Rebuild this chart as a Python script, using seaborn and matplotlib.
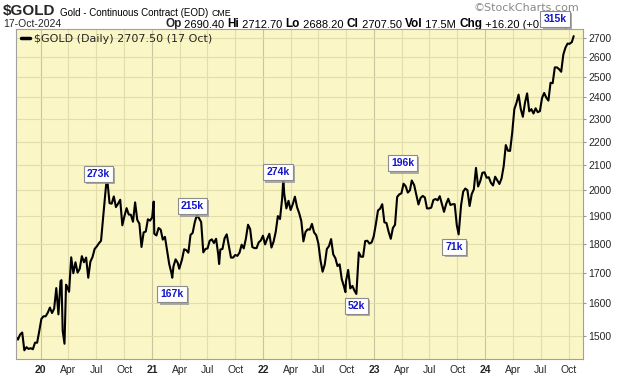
import pandas as pd
import seaborn as sns
import matplotlib.pyplot as plt
import matplotlib.patheffects as pe
from matplotlib.ticker import FixedLocator, NullLocator

# weekly closes (plus a few daily extremes)
dates = [
    '2019-10-14', '2019-10-18', '2019-10-25', '2019-11-01', '2019-11-08', '2019-11-15',
    '2019-11-22', '2019-11-29', '2019-12-06', '2019-12-13', '2019-12-20', '2019-12-27',
    '2020-01-03', '2020-01-10', '2020-01-17', '2020-01-24', '2020-01-31', '2020-02-07',
    '2020-02-14', '2020-02-21', '2020-02-28', '2020-03-06', '2020-03-09', '2020-03-13',
    '2020-03-19', '2020-03-24', '2020-03-27', '2020-04-03', '2020-04-10', '2020-04-17',
    '2020-04-24', '2020-05-01', '2020-05-08', '2020-05-15', '2020-05-22', '2020-05-29',
    '2020-06-05', '2020-06-12', '2020-06-19', '2020-06-26', '2020-07-03', '2020-07-10',
    '2020-07-17', '2020-07-24', '2020-07-31', '2020-08-06', '2020-08-07', '2020-08-14',
    '2020-08-21', '2020-08-28', '2020-09-04', '2020-09-11', '2020-09-18', '2020-09-25',
    '2020-10-02', '2020-10-09', '2020-10-16', '2020-10-23', '2020-10-30', '2020-11-06',
    '2020-11-13', '2020-11-20', '2020-11-27', '2020-12-04', '2020-12-11', '2020-12-18',
    '2020-12-25', '2021-01-01', '2021-01-06', '2021-01-08', '2021-01-15', '2021-01-22',
    '2021-01-29', '2021-02-05', '2021-02-12', '2021-02-19', '2021-02-26', '2021-03-05',
    '2021-03-08', '2021-03-12', '2021-03-19', '2021-03-26', '2021-03-31', '2021-04-09',
    '2021-04-16', '2021-04-23', '2021-04-30', '2021-05-07', '2021-05-14', '2021-05-21',
    '2021-05-28', '2021-06-04', '2021-06-11', '2021-06-18', '2021-06-25', '2021-07-02',
    '2021-07-09', '2021-07-16', '2021-07-23', '2021-07-30', '2021-08-06', '2021-08-09',
    '2021-08-13', '2021-08-20', '2021-08-27', '2021-09-03', '2021-09-10', '2021-09-17',
    '2021-09-24', '2021-10-01', '2021-10-08', '2021-10-15', '2021-10-22', '2021-10-29',
    '2021-11-05', '2021-11-12', '2021-11-19', '2021-11-26', '2021-12-03', '2021-12-10',
    '2021-12-17', '2021-12-24', '2021-12-31', '2022-01-07', '2022-01-14', '2022-01-21',
    '2022-01-28', '2022-02-04', '2022-02-11', '2022-02-18', '2022-02-25', '2022-03-04',
    '2022-03-08', '2022-03-11', '2022-03-18', '2022-03-25', '2022-04-01', '2022-04-08',
    '2022-04-15', '2022-04-22', '2022-04-29', '2022-05-06', '2022-05-13', '2022-05-20',
    '2022-05-27', '2022-06-03', '2022-06-10', '2022-06-17', '2022-06-24', '2022-07-01',
    '2022-07-08', '2022-07-15', '2022-07-22', '2022-07-29', '2022-08-05', '2022-08-12',
    '2022-08-19', '2022-08-26', '2022-09-02', '2022-09-09', '2022-09-16', '2022-09-23',
    '2022-09-28', '2022-09-30', '2022-10-07', '2022-10-14', '2022-10-21', '2022-10-28',
    '2022-11-03', '2022-11-11', '2022-11-18', '2022-11-25', '2022-12-02', '2022-12-09',
    '2022-12-16', '2022-12-23', '2022-12-30', '2023-01-06', '2023-01-13', '2023-01-20',
    '2023-01-27', '2023-02-03', '2023-02-10', '2023-02-17', '2023-02-24', '2023-03-03',
    '2023-03-10', '2023-03-17', '2023-03-24', '2023-03-31', '2023-04-07', '2023-04-14',
    '2023-04-21', '2023-04-28', '2023-05-04', '2023-05-12', '2023-05-19', '2023-05-26',
    '2023-06-02', '2023-06-09', '2023-06-16', '2023-06-23', '2023-06-30', '2023-07-07',
    '2023-07-14', '2023-07-21', '2023-07-28', '2023-08-04', '2023-08-11', '2023-08-18',
    '2023-08-25', '2023-09-01', '2023-09-08', '2023-09-15', '2023-09-22', '2023-09-29',
    '2023-10-05', '2023-10-13', '2023-10-20', '2023-10-27', '2023-11-03', '2023-11-10',
    '2023-11-17', '2023-11-24', '2023-12-01', '2023-12-08', '2023-12-15', '2023-12-22',
    '2023-12-29', '2024-01-05', '2024-01-12', '2024-01-19', '2024-01-26', '2024-02-02',
    '2024-02-09', '2024-02-16', '2024-02-23', '2024-03-01', '2024-03-08', '2024-03-15',
    '2024-03-22', '2024-03-29', '2024-04-05', '2024-04-12', '2024-04-19', '2024-04-26',
    '2024-05-03', '2024-05-10', '2024-05-17', '2024-05-24', '2024-05-31', '2024-06-07',
    '2024-06-14', '2024-06-21', '2024-06-28', '2024-07-05', '2024-07-12', '2024-07-19',
    '2024-07-26', '2024-08-02', '2024-08-09', '2024-08-16', '2024-08-23', '2024-08-30',
    '2024-09-06', '2024-09-13', '2024-09-20', '2024-09-27', '2024-10-04', '2024-10-11',
    '2024-10-17',
]
closes = [
    1495, 1490, 1505, 1511, 1459, 1468,
    1463, 1465, 1462, 1481, 1481, 1515,
    1552, 1560, 1560, 1571, 1587, 1570,
    1584, 1649, 1566, 1672, 1675, 1516,
    1478, 1660, 1655, 1637, 1752, 1698,
    1735, 1700, 1713, 1756, 1735, 1751,
    1683, 1737, 1753, 1781, 1790, 1801,
    1810, 1897, 1986, 2060, 2035, 1949,
    1947, 1975, 1934, 1947, 1962, 1866,
    1900, 1930, 1906, 1905, 1879, 1952,
    1886, 1872, 1788, 1840, 1843, 1888,
    1883, 1895, 1955, 1835, 1829, 1856,
    1850, 1814, 1824, 1777, 1729, 1700,
    1683, 1721, 1745, 1733, 1713, 1744,
    1780, 1777, 1768, 1831, 1838, 1877,
    1904, 1892, 1878, 1769, 1781, 1783,
    1810, 1815, 1802, 1817, 1763, 1729,
    1779, 1781, 1819, 1833, 1791, 1751,
    1751, 1760, 1757, 1768, 1796, 1783,
    1818, 1868, 1852, 1788, 1784, 1784,
    1804, 1811, 1828, 1797, 1817, 1835,
    1786, 1807, 1842, 1900, 1889, 1966,
    2043, 1985, 1929, 1958, 1923, 1945,
    1974, 1934, 1911, 1882, 1808, 1842,
    1851, 1850, 1871, 1840, 1830, 1801,
    1742, 1703, 1727, 1781, 1791, 1816,
    1762, 1749, 1722, 1728, 1678, 1655,
    1636, 1672, 1709, 1648, 1656, 1640,
    1630, 1769, 1754, 1754, 1809, 1810,
    1800, 1804, 1826, 1870, 1921, 1928,
    1945, 1877, 1874, 1842, 1817, 1856,
    1868, 1973, 1983, 1987, 2025, 2015,
    1990, 1999, 2038, 2019, 1981, 1944,
    1969, 1977, 1971, 1929, 1929, 1932,
    1961, 1965, 1960, 1976, 1946, 1916,
    1946, 1966, 1942, 1945, 1945, 1866,
    1833, 1941, 1994, 2006, 1999, 1938,
    1984, 2003, 2089, 2014, 2035, 2069,
    2071, 2049, 2051, 2029, 2018, 2053,
    2038, 2024, 2046, 2096, 2185, 2161,
    2160, 2238, 2345, 2374, 2413, 2347,
    2310, 2375, 2419, 2335, 2345, 2325,
    2349, 2331, 2336, 2397, 2421, 2399,
    2385, 2470, 2468, 2546, 2546, 2537,
    2524, 2611, 2647, 2668, 2667, 2676,
    2707.5,
]

price_ticks = [1500, 1600, 1700, 1800, 1900, 2000, 2100, 2200, 2300, 2400, 2500, 2600, 2700]
date_ticks = pd.date_range('2020-01-01', '2024-10-01', freq='QS')

# volume call-outs
vol_labels = ['273k', '215k', '167k', '274k', '52k', '196k', '71k', '315k']
vol_dates = ['2020-07-09', '2021-05-13', '2021-03-08', '2022-02-19',
             '2022-11-03', '2023-04-04', '2023-09-21', '2024-08-17']
vol_levels = [2063, 1937, 1629, 2071, 1591, 2108, 1787, 2800]

sns.set_style('white', {'axes.facecolor': '#FAF6C6'})
plt.rcParams['font.family'] = ['Liberation Sans', 'DejaVu Sans']

df = pd.DataFrame({'date': pd.to_datetime(dates), 'close': closes})

fig = plt.figure(figsize=(6.2, 3.76), dpi=100)
ax = fig.add_axes([0.026, 0.045, 0.9145, 0.878])
ax.set_zorder(5)

sns.lineplot(data=df, x='date', y='close', ax=ax, color='black', lw=1.5,
             label=r'\$GOLD (Daily) 2707.50 (17 Oct)')

ax.set_yscale('log')
ax.set_ylim(1434, 2746)
ax.set_xlim(pd.Timestamp('2019-10-12'), pd.Timestamp('2024-11-17'))

ax.yaxis.set_major_locator(FixedLocator(price_ticks))
ax.yaxis.set_minor_locator(NullLocator())
ax.set_yticklabels([str(p) for p in price_ticks])
ax.yaxis.tick_right()
ax.set_xticks(date_ticks)
ax.set_xticklabels([d.strftime('%y') if d.month == 1 else d.strftime('%b') for d in date_ticks])
for lab, d in zip(ax.get_xticklabels(), date_ticks):
    if d.month == 1:
        lab.set_fontweight('bold')
        lab.set_fontsize(8.5)
ax.tick_params(axis='both', labelsize=7.5, length=2, color='#999999', pad=2)
ax.set_xlabel('')
ax.set_ylabel('')

ax.grid(True, color='#E2DDA9', lw=0.8)
for line, d in zip(ax.get_xgridlines(), date_ticks):
    if d.month == 1:
        line.set_color('#C9C4A0')
for sp in ax.spines.values():
    sp.set_color('#A0A0A0')
    sp.set_linewidth(0.8)

leg = ax.legend(loc='upper left', frameon=False, handlelength=0.8, handletextpad=0.4,
                borderaxespad=0.05, prop={'family': 'DejaVu Sans', 'size': 8})
for h in leg.get_lines():
    h.set_linewidth(2.5)

for lab, d, v in zip(vol_labels, vol_dates, vol_levels):
    t = ax.text(pd.Timestamp(d), v, lab, ha='center', va='center', color='#1414C8',
                fontweight='bold', fontsize=7.5, clip_on=False, zorder=6,
                bbox=dict(boxstyle='square,pad=0.3', fc='white', ec='#8C8C8C', lw=0.8))
    t.get_bbox_patch().set_path_effects(
        [pe.withSimplePatchShadow(offset=(1.5, -1.5), shadow_rgbFace='#999999', alpha=0.8)])


def chain(prev, txt, size, bold=False, gap=0, color='black'):
    a = plt.Annotation(txt, xy=(1, 0), xycoords=prev, xytext=(gap, 0),
                       textcoords='offset points', va='bottom', ha='left',
                       fontsize=size, fontweight='bold' if bold else 'normal', color=color)
    fig.add_artist(a)
    return a


# header line 1
sym = fig.text(0.005, 1 - 15 / 376, r'\$GOLD', fontsize=11, fontweight='bold', va='baseline')
name = chain(sym, 'Gold - Continuous Contract (EOD)', 7, gap=3)
chain(name, 'CME', 6.3, gap=2.5)
fig.text(0.935, 1 - 11 / 376, '\u00a9StockCharts.com', fontsize=8, color='#8a8a8a',
         ha='right', family='DejaVu Sans', va='baseline')

# header line 2
fig.text(0.005, 1 - 27 / 376, '17-Oct-2024', fontsize=7.5, va='baseline')
parts = [('Op', True), (' 2690.40 ', False), ('Hi', True), (' 2712.70 ', False),
         ('Lo', True), (' 2688.20 ', False), ('Cl', True), (' 2707.50 ', False),
         ('Vol', True), (' 17.5M ', False), ('Chg', True), (' +16.20 (+0.60%)', False)]
prev = fig.text(165 / 620, 1 - 27 / 376, parts[0][0], fontsize=8.5, fontweight='bold',
                va='baseline')
for txt, bold in parts[1:]:
    prev = chain(prev, txt, 8.5 if bold else 8, bold=bold)

fig.savefig('out.png', dpi=100)
